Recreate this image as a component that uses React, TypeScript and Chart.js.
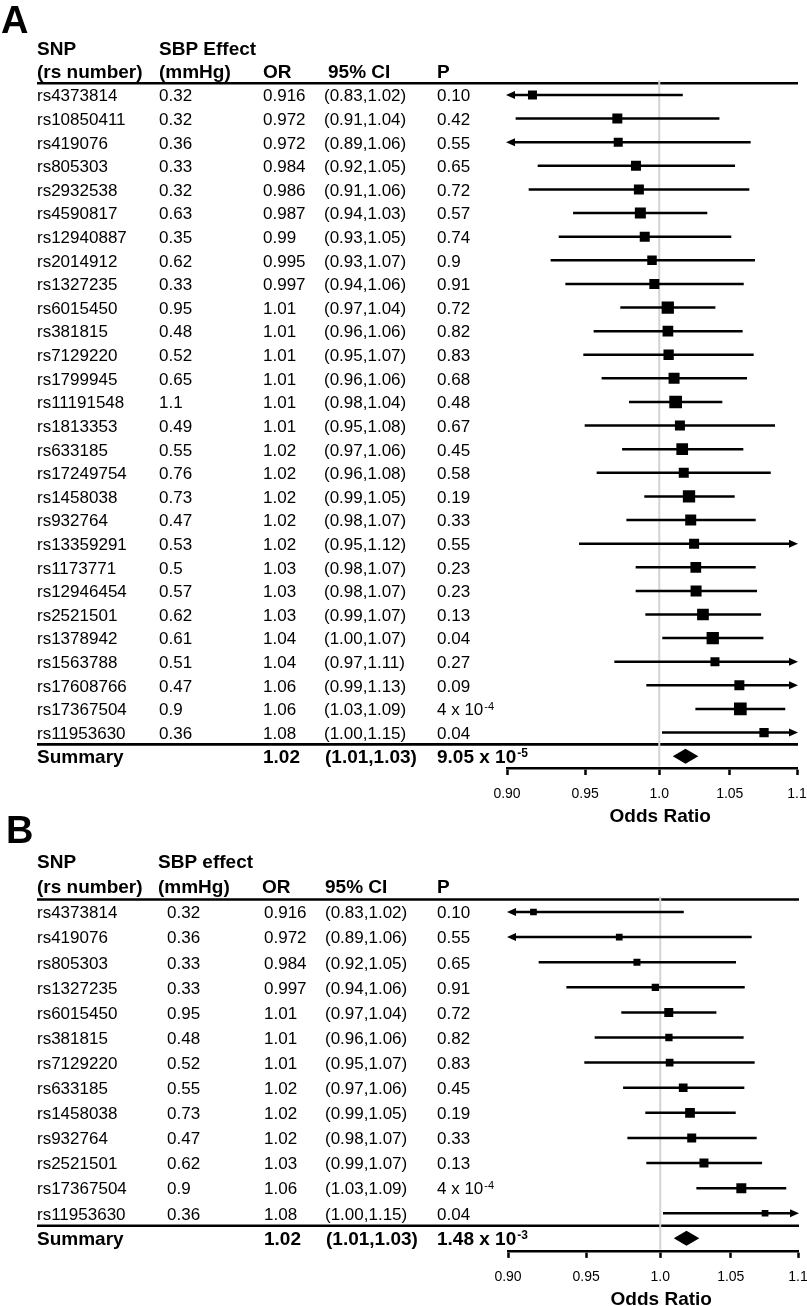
import React, { useEffect, useRef } from "react";
import { Chart, registerables } from "chart.js";
Chart.register(...registerables);

const FAM = '"Liberation Sans", Arial, Helvetica, sans-serif';

// ---------- Shared axis ----------
const tickValues = [0.9, 0.95, 1.0, 1.05, 1.1];
const tickLabels = ["0.90", "0.95", "1.0", "1.05", "1.1"];

// ---------- Panel A ----------
const headerA1 = ["SNP", "SBP Effect", "", "", ""];
const headerA2 = ["(rs number)", "(mmHg)", "OR", "95% CI", "P"];
const snpA = [
  "rs4373814", "rs10850411", "rs419076", "rs805303", "rs2932538", "rs4590817", "rs12940887",
  "rs2014912", "rs1327235", "rs6015450", "rs381815", "rs7129220", "rs1799945", "rs11191548",
  "rs1813353", "rs633185", "rs17249754", "rs1458038", "rs932764", "rs13359291", "rs1173771",
  "rs12946454", "rs2521501", "rs1378942", "rs1563788", "rs17608766", "rs17367504", "rs11953630",
];
const sbpA = [
  "0.32", "0.32", "0.36", "0.33", "0.32", "0.63", "0.35", "0.62", "0.33", "0.95", "0.48", "0.52",
  "0.65", "1.1", "0.49", "0.55", "0.76", "0.73", "0.47", "0.53", "0.5", "0.57", "0.62", "0.61",
  "0.51", "0.47", "0.9", "0.36",
];
const orTextA = [
  "0.916", "0.972", "0.972", "0.984", "0.986", "0.987", "0.99", "0.995", "0.997", "1.01", "1.01",
  "1.01", "1.01", "1.01", "1.01", "1.02", "1.02", "1.02", "1.02", "1.02", "1.03", "1.03", "1.03",
  "1.04", "1.04", "1.06", "1.06", "1.08",
];
const ciTextA = [
  "(0.83,1.02)", "(0.91,1.04)", "(0.89,1.06)", "(0.92,1.05)", "(0.91,1.06)", "(0.94,1.03)",
  "(0.93,1.05)", "(0.93,1.07)", "(0.94,1.06)", "(0.97,1.04)", "(0.96,1.06)", "(0.95,1.07)",
  "(0.96,1.06)", "(0.98,1.04)", "(0.95,1.08)", "(0.97,1.06)", "(0.96,1.08)", "(0.99,1.05)",
  "(0.98,1.07)", "(0.95,1.12)", "(0.98,1.07)", "(0.98,1.07)", "(0.99,1.07)", "(1.00,1.07)",
  "(0.97,1.11)", "(0.99,1.13)", "(1.03,1.09)", "(1.00,1.15)",
];
const pTextA = [
  "0.10", "0.42", "0.55", "0.65", "0.72", "0.57", "0.74", "0.9", "0.91", "0.72", "0.82", "0.83",
  "0.68", "0.48", "0.67", "0.45", "0.58", "0.19", "0.33", "0.55", "0.23", "0.23", "0.13", "0.04",
  "0.27", "0.09", "4 x 10^-4", "0.04",
];
const orA = [
  0.916, 0.9714, 0.972, 0.984, 0.986, 0.987, 0.99, 0.995, 0.9966, 1.0059, 1.006, 1.0065, 1.0103,
  1.0114, 1.0144, 1.016, 1.0171, 1.0208, 1.022, 1.0244, 1.0256, 1.0258, 1.0307, 1.0377, 1.0393,
  1.057, 1.0577, 1.0752,
];
const loA = [
  0.83, 0.9054, 0.89, 0.9193, 0.9136, 0.9421, 0.9328, 0.9276, 0.9371, 0.9734, 0.9556, 0.9488,
  0.9609, 0.9793, 0.9497, 0.9746, 0.9576, 0.9897, 0.9775, 0.946, 0.9838, 0.9838, 0.9904, 1.0021,
  0.9694, 0.9911, 1.0253, 1.0019,
];
const hiA = [
  1.0164, 1.0425, 1.0653, 1.0538, 1.0643, 1.0338, 1.0511, 1.0685, 1.0602, 1.0396, 1.0594, 1.0675,
  1.0626, 1.0446, 1.0834, 1.0599, 1.0802, 1.0536, 1.069, 1.12, 1.069, 1.07, 1.073, 1.0747, 1.11,
  1.13, 1.0911, 1.15,
];
const weightA = [
  9, 10, 9, 10, 10, 11, 10, 9.5, 10, 12.3, 10.7, 10.3, 11, 12.7, 10, 11.7, 10, 12.3, 11, 10, 10.7,
  11, 11.7, 12.3, 9, 10, 12.7, 9.3,
];
const summaryTextA = ["Summary", "", "1.02", "(1.01,1.03)", "9.05 x 10^-5"];
const summaryEstA = [1.0094, 1.0183, 1.0274];

// ---------- Panel B ----------
const headerB1 = ["SNP", "SBP effect", "", "", ""];
const headerB2 = ["(rs number)", "(mmHg)", "OR", "95% CI", "P"];
const snpB = [
  "rs4373814", "rs419076", "rs805303", "rs1327235", "rs6015450", "rs381815", "rs7129220",
  "rs633185", "rs1458038", "rs932764", "rs2521501", "rs17367504", "rs11953630",
];
const sbpB = ["0.32", "0.36", "0.33", "0.33", "0.95", "0.48", "0.52", "0.55", "0.73", "0.47", "0.62", "0.9", "0.36"];
const orTextB = ["0.916", "0.972", "0.984", "0.997", "1.01", "1.01", "1.01", "1.02", "1.02", "1.02", "1.03", "1.06", "1.08"];
const ciTextB = [
  "(0.83,1.02)", "(0.89,1.06)", "(0.92,1.05)", "(0.94,1.06)", "(0.97,1.04)", "(0.96,1.06)",
  "(0.95,1.07)", "(0.97,1.06)", "(0.99,1.05)", "(0.98,1.07)", "(0.99,1.07)", "(1.03,1.09)",
  "(1.00,1.15)",
];
const pTextB = ["0.10", "0.55", "0.65", "0.91", "0.72", "0.82", "0.83", "0.45", "0.19", "0.33", "0.13", "4 x 10^-4", "0.04"];
const orB = [0.916, 0.972, 0.984, 0.9966, 1.0059, 1.006, 1.0065, 1.016, 1.0208, 1.022, 1.0307, 1.0577, 1.0752];
const loB = [0.83, 0.89, 0.9193, 0.9371, 0.9734, 0.9556, 0.9488, 0.9746, 0.9897, 0.9775, 0.9904, 1.0253, 1.0019];
const hiB = [1.0164, 1.0653, 1.0538, 1.0602, 1.0396, 1.0594, 1.0675, 1.0599, 1.0536, 1.069, 1.073, 1.0911, 1.15];
const weightB = [6.7, 6.7, 7, 7.3, 9, 7.3, 7.7, 8.7, 9.7, 9, 9, 10, 6.7];
const summaryTextB = ["Summary", "", "1.02", "(1.01,1.03)", "1.48 x 10^-3"];
const summaryEstB = [1.0094, 1.0183, 1.0274];

type Panel = {
  letter: string; letterX: number; letterY: number;
  header1: string[]; header2: string[]; headX: number[]; rowX: number[];
  h1: number; h2: number;
  snp: string[]; sbp: string[]; orT: string[]; ci: string[]; p: string[];
  or: number[]; lo: number[]; hi: number[]; w: number[];
  sumText: string[]; sumEst: number[];
  pad: { top: number; left: number; right: number; bottom: number }; axisH: number;
};

const panelA: Panel = {
  letter: "A", letterX: 1, letterY: 33,
  header1: headerA1, header2: headerA2, headX: [37, 159, 263, 328, 437], rowX: [37, 159, 263, 324, 437],
  h1: -28.7, h2: -5.7,
  snp: snpA, sbp: sbpA, orT: orTextA, ci: ciTextA, p: pTextA,
  or: orA, lo: loA, hi: hiA, w: weightA, sumText: summaryTextA, sumEst: summaryEstA,
  pad: { top: 83.2, left: 507, right: 10, bottom: 1306 - 768 - 62 }, axisH: 62,
};
const panelB: Panel = {
  letter: "B", letterX: 6, letterY: 843,
  header1: headerB1, header2: headerB2, headX: [37, 158, 262, 325, 437], rowX: [37, 167, 264, 325, 437],
  h1: -31, h2: -6,
  snp: snpB, sbp: sbpB, orT: orTextB, ci: ciTextB, p: pTextB,
  or: orB, lo: loB, hi: hiB, w: weightB, sumText: summaryTextB, sumEst: summaryEstB,
  pad: { top: 899.45, left: 508, right: 9, bottom: 0 }, axisH: 1306 - 1250.9,
};

function drawSup(ctx: CanvasRenderingContext2D, text: string, x: number, y: number, font: string, supFont: string, rise: number) {
  const [base, sup] = text.split("^");
  ctx.font = font;
  ctx.fillText(base, x, y);
  if (sup) {
    const w = ctx.measureText(base).width;
    ctx.font = supFont;
    ctx.fillText(sup, x + w + 1, y - rise);
  }
}

function makePlugin(pn: Panel) {
  return {
    id: "forest",
    beforeDatasetsDraw(chart: any) {
      const { ctx, chartArea } = chart;
      const x = chart.scales.x;
      const y = chart.scales.y;
      const n = pn.snp.length;
      const headY = y.getPixelForValue(-0.5);
      const sumLineY = y.getPixelForValue(n - 0.5);
      ctx.save();
      ctx.strokeStyle = "#000";
      ctx.lineWidth = 2.6;
      ctx.beginPath();
      ctx.moveTo(37, headY); ctx.lineTo(chartArea.right + 1, headY);
      ctx.moveTo(37, sumLineY); ctx.lineTo(chartArea.right + 1, sumLineY);
      ctx.stroke();
      // reference line at OR = 1
      const x1 = x.getPixelForValue(1);
      ctx.strokeStyle = "#d3d3d3";
      ctx.lineWidth = 2;
      ctx.beginPath();
      ctx.moveTo(x1, headY - 3); ctx.lineTo(x1, chartArea.bottom - 1.5);
      ctx.stroke();
      // CI lines with arrows
      ctx.strokeStyle = "#000";
      ctx.fillStyle = "#000";
      ctx.lineWidth = 2.5;
      for (let i = 0; i < n; i++) {
        const yy = y.getPixelForValue(i);
        const leftOut = pn.lo[i] < x.min;
        const rightOut = pn.hi[i] > x.max;
        const xl = x.getPixelForValue(Math.max(pn.lo[i], x.min));
        const xr = x.getPixelForValue(Math.min(pn.hi[i], x.max));
        const lineL = leftOut ? xl + 5 : xl;
        const lineR = rightOut ? xr - 5 : xr;
        ctx.beginPath();
        ctx.moveTo(lineL, yy); ctx.lineTo(lineR, yy);
        ctx.stroke();
        if (leftOut) {
          const tip = xl - 1;
          ctx.beginPath();
          ctx.moveTo(tip, yy); ctx.lineTo(tip + 9, yy - 4); ctx.lineTo(tip + 9, yy + 4);
          ctx.closePath(); ctx.fill();
        }
        if (rightOut) {
          const tip = xr + 1;
          ctx.beginPath();
          ctx.moveTo(tip, yy); ctx.lineTo(tip - 9, yy - 4); ctx.lineTo(tip - 9, yy + 4);
          ctx.closePath(); ctx.fill();
        }
      }
      // summary diamond
      const sy = y.getPixelForValue(n);
      const dl = x.getPixelForValue(pn.sumEst[0]);
      const dc = x.getPixelForValue(pn.sumEst[1]);
      const dr = x.getPixelForValue(pn.sumEst[2]);
      ctx.beginPath();
      ctx.moveTo(dl, sy); ctx.lineTo(dc, sy - 7.5); ctx.lineTo(dr, sy); ctx.lineTo(dc, sy + 7.5);
      ctx.closePath(); ctx.fill();
      ctx.restore();
    },
    afterDraw(chart: any) {
      const { ctx, chartArea } = chart;
      const x = chart.scales.x;
      const y = chart.scales.y;
      const n = pn.snp.length;
      const headY = y.getPixelForValue(-0.5);
      ctx.save();
      ctx.fillStyle = "#000";
      ctx.textAlign = "left";
      ctx.textBaseline = "alphabetic";
      ctx.font = `bold 38px ${FAM}`;
      ctx.fillText(pn.letter, pn.letterX, pn.letterY);
      ctx.font = `bold 19px ${FAM}`;
      pn.header1.forEach((t, j) => { if (t) ctx.fillText(t, pn.headX[j], headY + pn.h1); });
      pn.header2.forEach((t, j) => { if (t) ctx.fillText(t, pn.headX[j], headY + pn.h2); });
      const rowFont = `17px ${FAM}`;
      for (let i = 0; i < n; i++) {
        const by = y.getPixelForValue(i) + 6.3;
        ctx.font = rowFont;
        ctx.fillText(pn.snp[i], pn.rowX[0], by);
        ctx.fillText(pn.sbp[i], pn.rowX[1], by);
        ctx.fillText(pn.orT[i], pn.rowX[2], by);
        ctx.fillText(pn.ci[i], pn.rowX[3], by);
        drawSup(ctx, pn.p[i], pn.rowX[4], by, rowFont, `11px ${FAM}`, 5.5);
      }
      const sb = y.getPixelForValue(n) + 7;
      const sumFont = `bold 19px ${FAM}`;
      pn.sumText.forEach((t, j) => {
        if (!t) return;
        const xx = j === 3 ? pn.rowX[3] + 1 : pn.rowX[j];
        drawSup(ctx, t, xx, sb, sumFont, `bold 12px ${FAM}`, 6.5);
      });
      // axis title
      ctx.font = `bold 19px ${FAM}`;
      ctx.textAlign = "center";
      ctx.fillText("Odds Ratio", x.getPixelForValue(1) + 1, chartArea.bottom + 47 + 7);
      ctx.restore();
    },
  };
}

function ForestPanel({ pn }: { pn: Panel }) {
  const ref = useRef<HTMLCanvasElement>(null);
  useEffect(() => {
    const n = pn.snp.length;
    const chart = new Chart(ref.current as HTMLCanvasElement, {
      type: "scatter",
      data: {
        datasets: [
          {
            data: pn.or.map((v, i) => ({ x: v, y: i })),
            pointStyle: "rect",
            pointRadius: pn.w.map((s) => s / Math.SQRT2),
            pointHoverRadius: pn.w.map((s) => s / Math.SQRT2),
            backgroundColor: "#000",
            borderWidth: 0,
          },
        ],
      },
      options: {
        animation: false,
        responsive: false,
        events: [],
        layout: { padding: pn.pad, autoPadding: false },
        plugins: { legend: { display: false }, tooltip: { enabled: false } },
        scales: {
          x: {
            type: "logarithmic",
            min: 0.9,
            max: 1.1,
            afterBuildTicks: (s: any) => { s.ticks = tickValues.map((v) => ({ value: v })); },
            afterFit: (s: any) => { s.height = pn.axisH; s.paddingLeft = 0; s.paddingRight = 0; },
            ticks: {
              callback: (_v: any, i: number) => tickLabels[i],
              font: { family: FAM, size: 14, lineHeight: 38.2 / 14 },
              color: "#000",
              padding: 0,
              maxRotation: 0,
              autoSkip: false,
            },
            grid: { drawOnChartArea: false, drawTicks: true, tickLength: 7, tickWidth: 2.5, tickColor: "#000" },
            border: { display: true, color: "#000", width: 2.6 },
          },
          y: { type: "linear", display: false, reverse: true, min: -0.5, max: n + 0.5 },
        },
      } as any,
      plugins: [makePlugin(pn)],
    });
    return () => chart.destroy();
  }, [pn]);
  return (
    <canvas
      ref={ref}
      width={807}
      height={1306}
      style={{ position: "absolute", left: 0, top: 0, width: 807, height: 1306 }}
    />
  );
}

export default function App() {
  return (
    <div style={{ position: "absolute", left: 0, top: 0, width: 807, height: 1306, background: "#fff", overflow: "hidden" }}>
      <ForestPanel pn={panelA} />
      <ForestPanel pn={panelB} />
    </div>
  );
}
